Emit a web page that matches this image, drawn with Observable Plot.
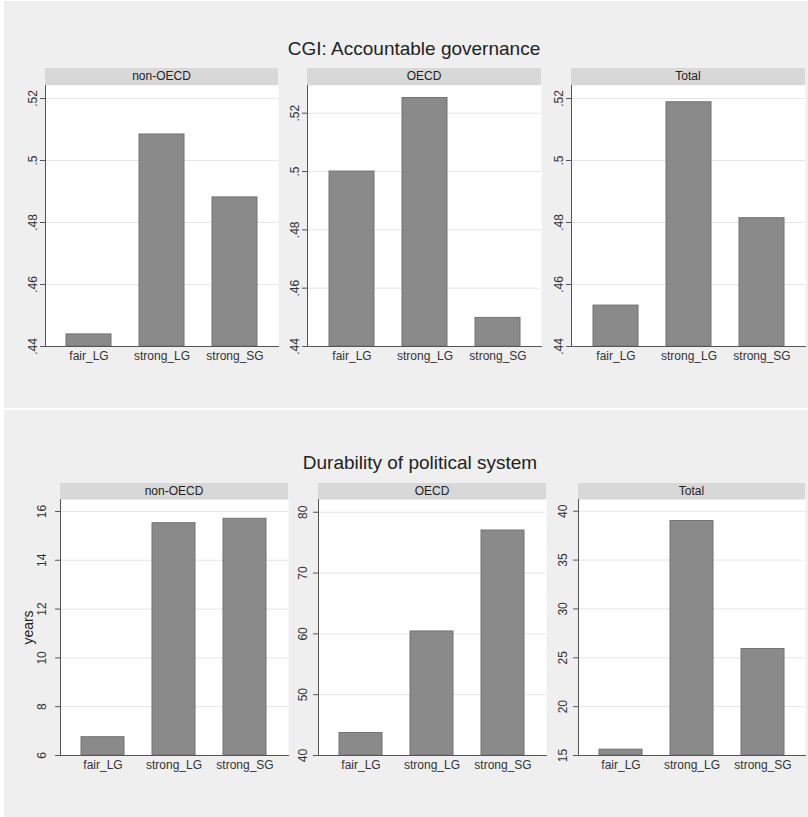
<!DOCTYPE html>
<html>
<head>
<meta charset="utf-8">
<script src="https://cdn.jsdelivr.net/npm/d3@7"></script>
<script src="https://cdn.jsdelivr.net/npm/@observablehq/plot@0.6"></script>
<style>
  html, body { margin: 0; padding: 0; background: #ffffff; }
  #root { position: relative; width: 808px; height: 817px; overflow: hidden; background: #ffffff;
          font-family: "Liberation Sans", Arial, Helvetica, sans-serif; }
  .bg { position: absolute; background: #efefef; }
  .title { position: absolute; font-size: 19px; line-height: 19px; color: #222; white-space: nowrap; transform: translateX(-50%); }
  .strip { position: absolute; height: 17px; line-height: 17px; background: #d8d8d8; color: #222;
           font-size: 12px; text-align: center; }
  .panel { position: absolute; }
</style>
</head>
<body>
<div id="root"></div>
<script>
// ---- data ----
const categories = ["fair_LG", "strong_LG", "strong_SG"];
const groups = ["non-OECD", "OECD", "Total"];

const cgiNonOECD = [0.4439, 0.5084, 0.4881];
const cgiOECD    = [0.5000, 0.5252, 0.4498];
const cgiTotal   = [0.4532, 0.5188, 0.4814];

const durNonOECD = [6.75, 15.52, 15.70];
const durOECD    = [43.7, 60.4, 77.0];
const durTotal   = [15.6, 39.0, 25.9];

const cgiTicks = [0.44, 0.46, 0.48, 0.50, 0.52];
const durTicksNonOECD = [6, 8, 10, 12, 14, 16];
const durTicksOECD = [40, 50, 60, 70, 80];
const durTicksTotal = [15, 20, 25, 30, 35, 40];

const cgiDomains = [[0.44, 0.5242], [0.44, 0.5295], [0.44, 0.5242]];
const durDomains = [[6, 16.49], [40, 82.1], [15, 41.2]];

const titles = ["CGI: Accountable governance", "Durability of political system"];
const yLabelBottom = "years";

// ---- layout ----
const root = document.getElementById("root");
function div(cls, css, text) {
  const d = document.createElement("div");
  d.className = cls;
  Object.assign(d.style, css);
  if (text != null) d.textContent = text;
  root.appendChild(d);
  return d;
}
div("bg", {left: "4px", top: "1px", width: "804px", height: "407px"});
div("bg", {left: "4px", top: "410px", width: "804px", height: "407px"});
div("title", {left: "414px", top: "39px"}, titles[0]);
div("title", {left: "420px", top: "453px"}, titles[1]);

const stataFmt = d => String(+d.toFixed(4)).replace(/^0\./, ".");

function panel({values, ticks, domain, left, right, stripTop, plotTop, plotBottom, group, labelDx, fmt, ylabel}) {
  const mL = 40, mR = 3, mB = 30;
  const W = right - left + mL + mR;
  const H = plotBottom - plotTop + mB;
  const data = categories.map((c, i) => ({cat: c, value: values[i]}));
  div("strip", {left: left + "px", top: stripTop + "px", width: (right - left) + "px"}, group);
  const marks = [
    Plot.frame({fill: "#ffffff", stroke: null}),
    Plot.gridY(ticks, {stroke: "#e6e6e6", strokeOpacity: 1}),
    Plot.barY(data, {x: "cat", y1: domain[0], y2: "value", fill: "#8a8a8a", stroke: "#737373", strokeWidth: 1}),
    Plot.axisY({ticks, tickSize: 5, tickFormat: () => "", stroke: "#555"}),
    Plot.text(ticks, {y: d => d, text: fmt, rotate: -90, frameAnchor: "left", textAnchor: "middle", lineAnchor: "middle", dx: labelDx, fontSize: 12, fill: "#333"}),
    Plot.frame({anchor: "left", stroke: "#555"}),
    Plot.frame({anchor: "bottom", stroke: "#555"}),
    Plot.axisX({tickSize: 0, tickPadding: 5, fontSize: 12, fill: "#333", label: null})
  ];
  if (ylabel) marks.push(Plot.text([ylabel], {frameAnchor: "left", textAnchor: "middle", lineAnchor: "middle", dx: -32, rotate: -90, fontSize: 14, fill: "#222"}));
  const p = Plot.plot({
    width: W, height: H,
    marginLeft: mL, marginRight: mR, marginTop: 0, marginBottom: mB,
    style: {background: "transparent", fontFamily: "'Liberation Sans', Arial, Helvetica, sans-serif", fontSize: "12px", color: "#333", overflow: "visible"},
    x: {domain: categories, paddingInner: 0.39, paddingOuter: 0.28, label: null},
    y: {domain, label: null},
    marks
  });
  const wrap = div("panel", {left: (left - mL) + "px", top: plotTop + "px"});
  wrap.appendChild(p);
}

const topRow = [
  {values: cgiNonOECD, left: 45, right: 278},
  {values: cgiOECD, left: 307, right: 541},
  {values: cgiTotal, left: 571, right: 805}
];
topRow.forEach((r, i) => panel({
  ...r, ticks: cgiTicks, domain: cgiDomains[i], group: groups[i],
  stripTop: 68, plotTop: 85, plotBottom: 346, labelDx: -12, fmt: stataFmt
}));

const botRow = [
  {values: durNonOECD, ticks: durTicksNonOECD, left: 60, right: 288, labelDx: -18, ylabel: yLabelBottom},
  {values: durOECD, ticks: durTicksOECD, left: 318, right: 546, labelDx: -15},
  {values: durTotal, ticks: durTicksTotal, left: 578, right: 805, labelDx: -15}
];
botRow.forEach((r, i) => panel({
  ...r, domain: durDomains[i], group: groups[i],
  stripTop: 483, plotTop: 499, plotBottom: 755, fmt: d => String(d)
}));
</script>
</body>
</html>
